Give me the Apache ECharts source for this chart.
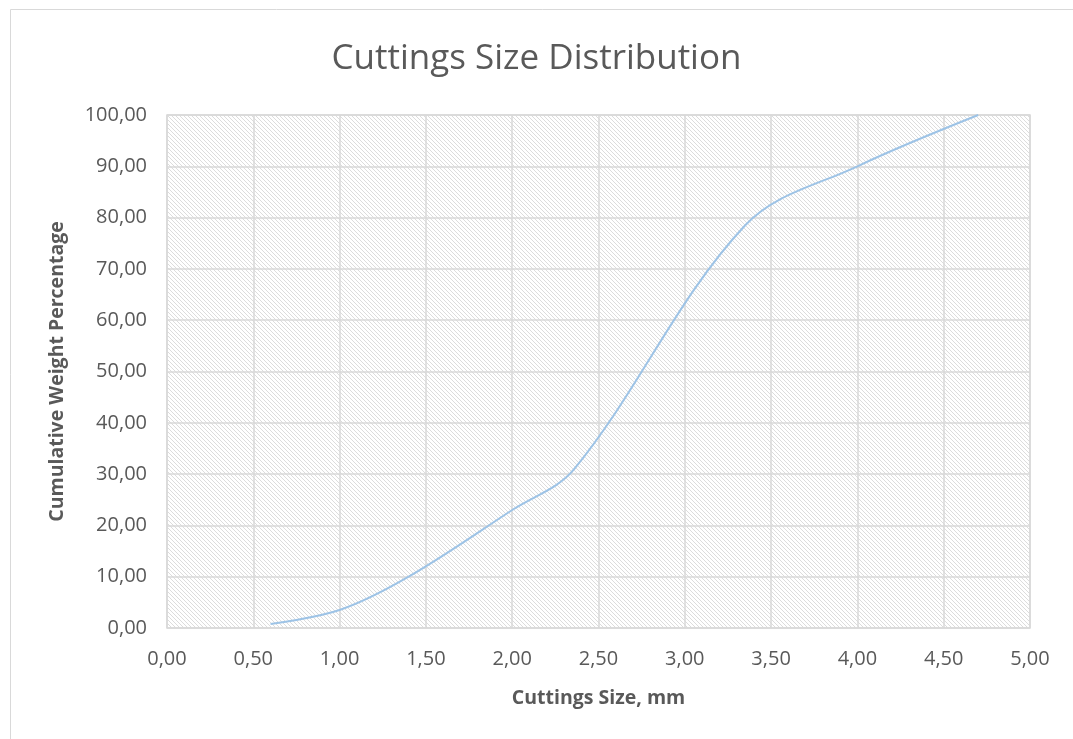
<!DOCTYPE html>
<html>
<head>
<meta charset="utf-8">
<script src="https://cdn.jsdelivr.net/npm/echarts@6/dist/echarts.min.js"></script>
<style>
  html, body { margin: 0; padding: 0; background: #fff; }
  #chart { width: 1073px; height: 739px; }
</style>
</head>
<body>
<div id="chart"></div>
<script>
// cuttings size (mm) vs cumulative weight percentage
const sizes = [0.6, 1.0, 1.4, 2.0, 2.36, 3.35, 4.0, 4.7];
const cumWeight = [0.8, 3.5, 10, 23, 31, 78.5, 90, 100];

const fmt = (v) => v.toFixed(2).replace(".", ",");

// hatched plot background like the Excel pattern fill
function hatch() {
  const c = document.createElement("canvas");
  c.width = 4;
  c.height = 4;
  const ctx = c.getContext("2d");
  ctx.fillStyle = "#ffffff";
  ctx.fillRect(0, 0, 4, 4);
  ctx.fillStyle = "#dcdcdc";
  for (let i = 0; i < 4; i++) {
    ctx.fillRect(i, i, 1, 1);
  }
  return c;
}

const chart = echarts.init(document.getElementById("chart"));
chart.setOption({
  animation: false,
  textStyle: { fontFamily: "Open Sans" },
  graphic: [
    {
      type: "rect",
      shape: { x: 10.5, y: 9.5, width: 1100, height: 800 },
      style: { fill: "none", stroke: "#d9d9d9", lineWidth: 1 },
      silent: true,
    },
  ],
  title: {
    text: "Cuttings Size Distribution",
    left: "center",
    top: 37,
    textStyle: { fontSize: 35, fontWeight: "normal", color: "#595959", fontFamily: "Open Sans" },
  },
  grid: {
    left: 167,
    right: 43,
    top: 115,
    bottom: 111,
    show: true,
    backgroundColor: { image: hatch(), repeat: "repeat" },
    borderColor: "#d9d9d9",
    borderWidth: 1.5,
  },
  xAxis: {
    type: "value",
    min: 0,
    max: 5,
    interval: 0.5,
    name: "Cuttings Size, mm",
    nameLocation: "middle",
    nameGap: 60,
    nameTextStyle: { fontSize: 19.5, fontWeight: "bold", color: "#595959" },
    axisLine: { show: false },
    axisTick: { show: false },
    axisLabel: { formatter: fmt, fontSize: 20, color: "#595959", margin: 21 },
    splitLine: { lineStyle: { color: "#d9d9d9", width: 1.5 } },
  },
  yAxis: {
    type: "value",
    min: 0,
    max: 100,
    interval: 10,
    name: "Cumulative Weight Percentage",
    nameLocation: "middle",
    nameGap: 100,
    nameTextStyle: { fontSize: 19.5, fontWeight: "bold", color: "#595959" },
    axisLine: { show: false },
    axisTick: { show: false },
    axisLabel: { formatter: fmt, fontSize: 20, color: "#595959", margin: 20 },
    splitLine: { lineStyle: { color: "#d9d9d9", width: 1.5 } },
  },
  series: [
    {
      type: "line",
      data: sizes.map((x, i) => [x, cumWeight[i]]),
      smooth: 0.35,
      showSymbol: false,
      lineStyle: { color: "#9dc3e6", width: 2 },
    },
  ],
});
</script>
</body>
</html>
